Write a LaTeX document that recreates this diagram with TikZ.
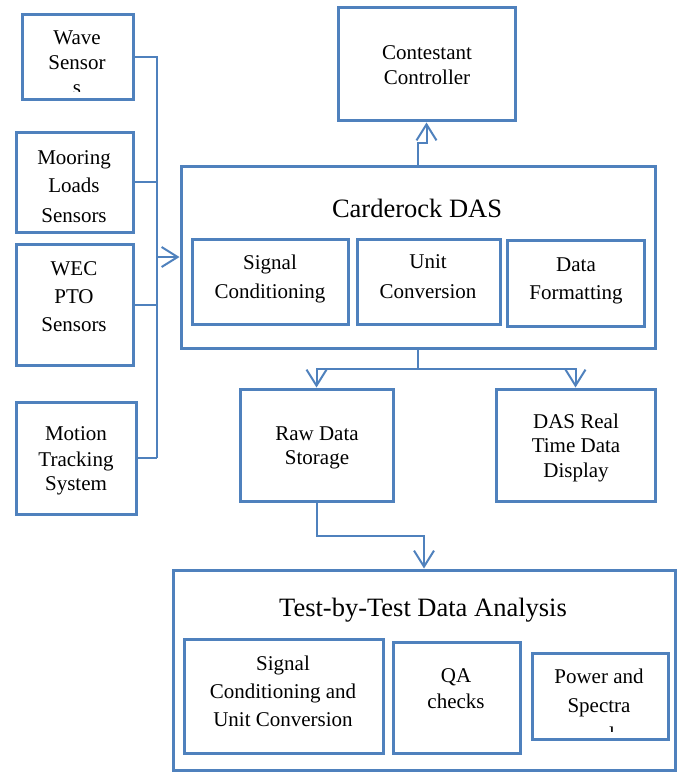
\documentclass[tikz,border=0pt]{standalone}
\usepackage{fontspec}
\setmainfont{Liberation Serif}
\usetikzlibrary{arrows.meta,fit}
\definecolor{bl}{HTML}{4F81BD}
\begin{document}
\begin{tikzpicture}[x=1pt,y=-1pt,
  box/.style={draw=bl,line width=3pt,inner sep=0pt},
  conn/.style={draw=bl,line width=2pt},
  arr/.style={draw=bl,line width=2pt,-{Straight Barb[length=16pt,width=20pt]}},
  txt/.style={anchor=base,inner sep=0pt,font=\fontsize{21}{25}\selectfont},
  big/.style={anchor=base,inner sep=0pt,font=\fontsize{26.5}{30}\selectfont}]
\useasboundingbox (0,0) rectangle (681,773);
% boxes
\node[box,fit={(22,15) (133,100)}] (ws) {};
\node[box,fit={(16,132) (133,232)}] (ml) {};
\node[box,fit={(16,244) (133,365)}] (wec) {};
\node[box,fit={(16,402) (136,514)}] (mt) {};
\node[box,fit={(338,8) (515,121)}] (cc) {};
\node[box,fit={(181,166) (655,348)}] (das) {};
\node[box,fit={(192,239) (348,324)}] (sc) {};
\node[box,fit={(357,239) (500,324)}] (uc) {};
\node[box,fit={(507,240) (644,326)}] (df) {};
\node[box,fit={(240,389) (393,501)}] (raw) {};
\node[box,fit={(496,389) (655,501)}] (rt) {};
\node[box,fit={(173,570) (675,770.5)}] (tt) {};
\node[box,fit={(184,639) (383,753)}] (sc2) {};
\node[box,fit={(393,642) (520,753)}] (qa) {};
\node[box,fit={(532,653) (668,739)}] (ps) {};
% texts
\node[txt] (wsA) at (77,45) {Wave};
\node[txt] (wsB) at (77,70) {Sensor};
\begin{scope}
  \clip (22,15) rectangle (133,92);
  \node[txt] (wsC) at (77,95) {s};
\end{scope}
\node[txt] (mlA) at (74,164) {Mooring};
\node[txt] (mlB) at (74,192) {Loads};
\node[txt] (mlC) at (74,222) {Sensors};
\node[txt] (wecA) at (74,275) {WEC};
\node[txt] (wecB) at (74,303) {PTO};
\node[txt] (wecC) at (74,331) {Sensors};
\node[txt] (mtA) at (76,440) {Motion};
\node[txt] (mtB) at (76,466) {Tracking};
\node[txt] (mtC) at (76,490) {System};
\node[txt] (ccA) at (427,60) {Contestant};
\node[txt] (ccB) at (427,85) {Controller};
\node[big] (dasT) at (417,217) {Carderock DAS};
\node[txt] (scA) at (270,269) {Signal};
\node[txt] (scB) at (270,298) {Conditioning};
\node[txt] (ucA) at (428,268) {Unit};
\node[txt] (ucB) at (428,298) {Conversion};
\node[txt] (dfA) at (576,271) {Data};
\node[txt] (dfB) at (576,299) {Formatting};
\node[txt] (rawA) at (317,440) {Raw Data};
\node[txt] (rawB) at (317,464) {Storage};
\node[txt] (rtA) at (576,428) {DAS Real};
\node[txt] (rtB) at (576,452) {Time Data};
\node[txt] (rtC) at (576,477) {Display};
\node[big] (ttT) at (423,616) {Test-by-Test Data Analysis};
\node[txt] (sc2A) at (283,670) {Signal};
\node[txt] (sc2B) at (283,698) {Conditioning and};
\node[txt] (sc2C) at (283,726) {Unit Conversion};
\node[txt] (qaA) at (456,682) {QA};
\node[txt] (qaB) at (456,708) {checks};
\node[txt] (psA) at (599,683) {Power and};
\node[txt] (psB) at (599,712) {Spectra};
\begin{scope}
  \clip (532,653) rectangle (668,731);
  \node[txt] (psC) at (612,741) {l};
\end{scope}
% connectors
\coordinate (busB) at (157,458);
\coordinate (busA) at (157,257);
\draw[conn] (ws.east) -| (busB);
\draw[conn] (ml.east) -- (ml.east -| busB);
\draw[conn] (wec.east) -- (wec.east -| busB);
\draw[conn] (mt.east) -- (mt.east -| busB);
\draw[arr] (busA) -- (busA -| das.west);
\draw[arr] (das.north) -- ++(0,-22) -| (cc.south);
\draw[arr] (das.south) -- ++(0,19) -| (raw.north);
\draw[arr] (das.south) -- ++(0,19) -| (rt.north);
\draw[arr] (raw.south) -- ++(0,33) -| (tt.north);
\end{tikzpicture}
\end{document}
